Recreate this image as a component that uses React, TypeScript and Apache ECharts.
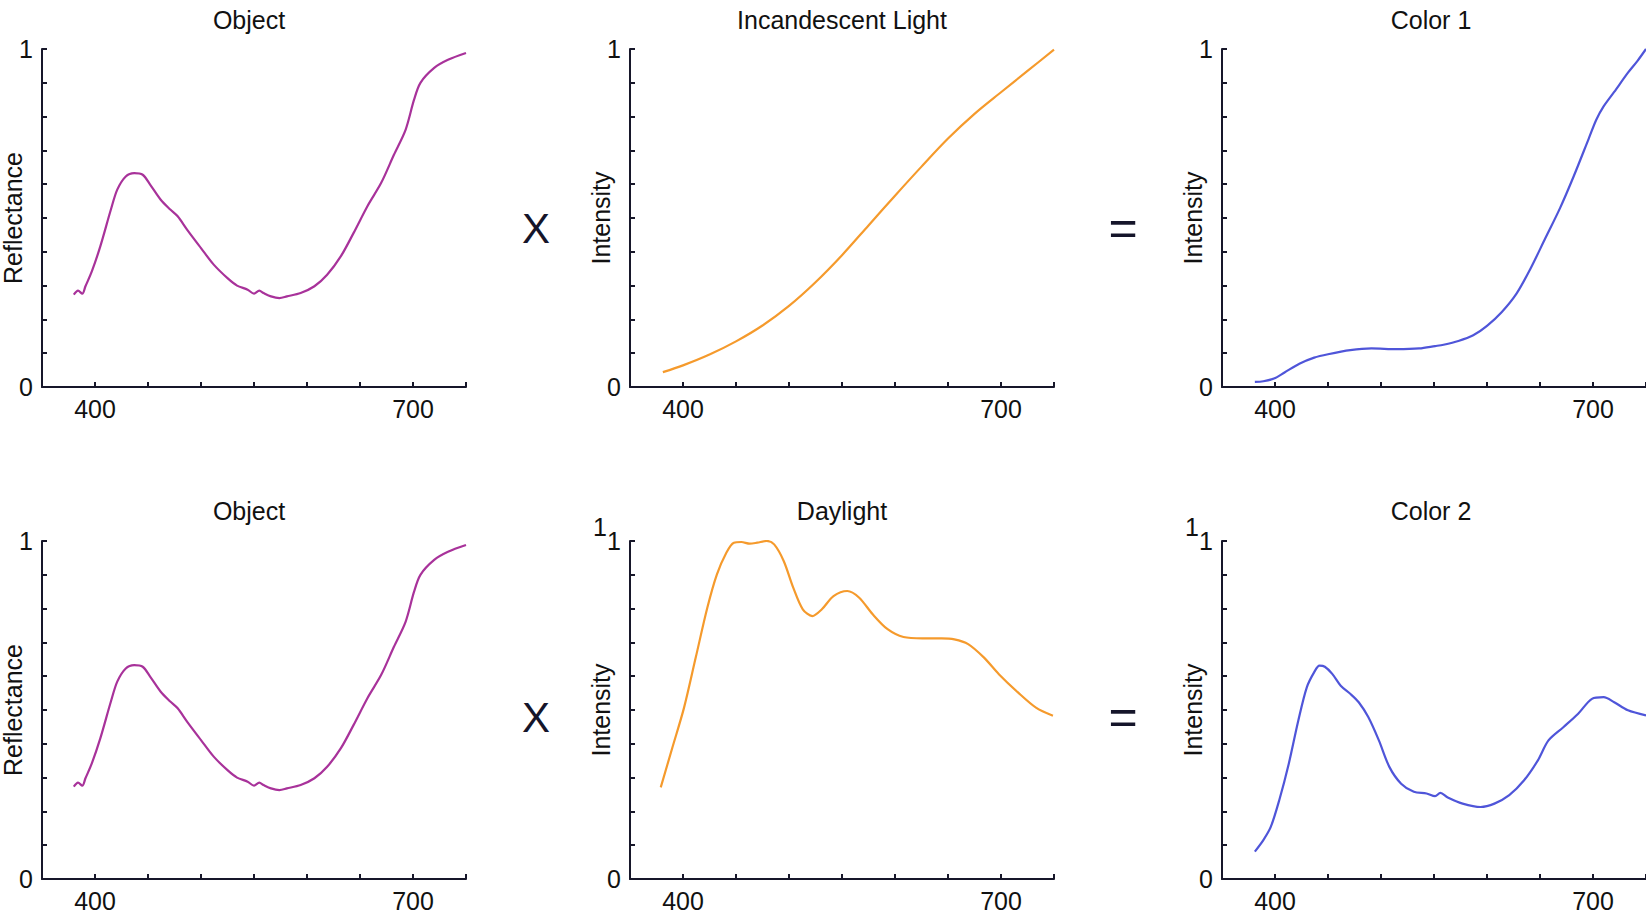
import React, { useEffect, useRef } from 'react';
import * as echarts from 'echarts';

// ---- data (wavelength in nm, normalised value) ----
const objectNm = [380, 384, 388, 391, 397, 405, 415, 421, 429, 437, 445, 452, 462, 471, 478, 487, 500, 512, 525, 534, 544, 550, 555, 559, 566, 574, 581, 594, 607, 619, 632, 644, 657, 670, 682, 693, 701, 707, 720, 733, 750];
const objectVal = [0.273, 0.285, 0.276, 0.298, 0.342, 0.416, 0.525, 0.584, 0.623, 0.633, 0.628, 0.599, 0.554, 0.525, 0.505, 0.465, 0.411, 0.362, 0.322, 0.300, 0.288, 0.276, 0.285, 0.278, 0.268, 0.263, 0.268, 0.278, 0.298, 0.332, 0.387, 0.456, 0.535, 0.604, 0.687, 0.761, 0.850, 0.900, 0.944, 0.968, 0.988];

const incandescentNm = [381, 400, 425, 450, 475, 500, 525, 550, 575, 600, 625, 650, 675, 700, 725, 750];
const incandescentVal = [0.044, 0.064, 0.096, 0.135, 0.182, 0.240, 0.310, 0.390, 0.478, 0.566, 0.652, 0.735, 0.808, 0.872, 0.935, 0.998];

const color1Nm = [381, 389, 399, 409, 423, 437, 450, 471, 491, 515, 536, 551, 559, 573, 587, 600, 614, 628, 641, 655, 669, 682, 696, 703, 710, 720, 733, 742, 750];
const color1Val = [0.015, 0.017, 0.025, 0.043, 0.069, 0.087, 0.097, 0.109, 0.114, 0.112, 0.114, 0.121, 0.125, 0.136, 0.153, 0.181, 0.222, 0.277, 0.350, 0.440, 0.530, 0.625, 0.735, 0.790, 0.830, 0.873, 0.930, 0.965, 1.0];

const daylightNm = [379, 390, 401, 412, 423, 432, 441, 448, 455, 463, 470, 479, 486, 495, 504, 513, 522, 531, 542, 555, 566, 579, 593, 608, 626, 644, 656, 669, 684, 698, 716, 733, 749];
const daylightVal = [0.271, 0.389, 0.507, 0.655, 0.803, 0.901, 0.966, 0.995, 0.997, 0.992, 0.995, 1.0, 0.990, 0.941, 0.862, 0.798, 0.778, 0.798, 0.837, 0.852, 0.833, 0.783, 0.739, 0.716, 0.712, 0.712, 0.709, 0.695, 0.655, 0.606, 0.552, 0.507, 0.483];

const color2Nm = [381, 389, 396, 404, 413, 422, 430, 437, 442, 447, 454, 462, 471, 479, 488, 498, 508, 519, 531, 543, 551, 556, 563, 577, 594, 607, 621, 635, 648, 658, 672, 686, 699, 710, 720, 733, 750];
const color2Val = [0.081, 0.115, 0.154, 0.233, 0.341, 0.469, 0.567, 0.612, 0.631, 0.628, 0.607, 0.572, 0.548, 0.523, 0.479, 0.410, 0.331, 0.282, 0.258, 0.253, 0.245, 0.255, 0.241, 0.223, 0.213, 0.223, 0.248, 0.292, 0.351, 0.410, 0.449, 0.489, 0.533, 0.538, 0.523, 0.499, 0.484];

const panelTitles = ['Object', 'Incandescent Light', 'Color 1', 'Object', 'Daylight', 'Color 2'];
const yAxisNames = ['Reflectance', 'Intensity', 'Intensity', 'Reflectance', 'Intensity', 'Intensity'];
const xTickLabels = [400, 700];
const yTickLabels = [0, 1];

const FONT = '"Liberation Sans", Arial, Helvetica, sans-serif';

const pairs = (xs: number[], ys: number[]) => xs.map((x, i) => [x, ys[i]]);

export default function App() {
  const ref = useRef<HTMLDivElement>(null);

  useEffect(() => {
    if (!ref.current) return;
    const chart = echarts.init(ref.current, undefined, { renderer: 'svg' });

    const lefts = [42, 630, 1222];
    const tops = [49, 541];
    const W = 424;
    const H = 338;
    const titleX = [249, 842, 1431];
    const titleY = [20, 511];

    const grids: any[] = [];
    const xAxes: any[] = [];
    const yAxes: any[] = [];
    const axisColor = '#17172a';

    for (let r = 0; r < 2; r++) {
      for (let c = 0; c < 3; c++) {
        const i = r * 3 + c;
        grids.push({ left: lefts[c], top: tops[r], width: W, height: H, containLabel: false, outerBoundsMode: 'none' });
        xAxes.push({
          type: 'value',
          gridIndex: i,
          min: 350,
          max: 750,
          interval: 50,
          axisLine: { show: true, onZero: false, lineStyle: { color: axisColor, width: 2 } },
          axisTick: { show: true, inside: true, length: 5, lineStyle: { color: axisColor, width: 2 } },
          axisLabel: {
            formatter: (v: number) => (xTickLabels.includes(Math.round(v)) ? String(Math.round(v)) : ''),
            fontSize: 25,
            color: '#111',
            margin: 9,
            fontFamily: FONT,
          },
          splitLine: { show: false },
        });
        yAxes.push({
          type: 'value',
          gridIndex: i,
          min: 0,
          max: 1,
          interval: 0.1,
          name: yAxisNames[i],
          nameLocation: 'middle',
          nameGap: 17,
          nameMoveOverlap: false,
          nameTextStyle: { fontSize: 25, color: '#111', fontFamily: FONT },
          axisLine: { show: true, onZero: false, lineStyle: { color: axisColor, width: 2 } },
          axisTick: { show: true, inside: true, length: 5, lineStyle: { color: axisColor, width: 2 } },
          axisLabel: {
            formatter: (v: number) => {
              const m = yTickLabels.find((t) => Math.abs(v - t) < 1e-6);
              return m !== undefined ? String(m) : '';
            },
            fontSize: 25,
            color: '#111',
            margin: 9,
            fontFamily: FONT,
          },
          splitLine: { show: false },
        });
      }
    }

    const seriesDefs = [
      { data: pairs(objectNm, objectVal), color: '#a8329a' },
      { data: pairs(incandescentNm, incandescentVal), color: '#f59a2c' },
      { data: pairs(color1Nm, color1Val), color: '#4f55d9' },
      { data: pairs(objectNm, objectVal), color: '#a8329a' },
      { data: pairs(daylightNm, daylightVal), color: '#f59a2c' },
      { data: pairs(color2Nm, color2Val), color: '#4f55d9' },
    ];

    const series = seriesDefs.map((s, i) => ({
      type: 'line',
      xAxisIndex: i,
      yAxisIndex: i,
      data: s.data,
      smooth: 0.3,
      showSymbol: false,
      symbol: 'none',
      lineStyle: { color: s.color, width: 2.2 },
      itemStyle: { color: s.color },
    }));

    const graphic: any[] = [];
    for (let r = 0; r < 2; r++) {
      for (let c = 0; c < 3; c++) {
        graphic.push({
          type: 'text',
          x: titleX[c],
          y: titleY[r],
          style: { text: panelTitles[r * 3 + c], fontSize: 25, fontFamily: FONT, fill: '#111', align: 'center', verticalAlign: 'middle' },
        });
      }
    }
    const opY = [228, 717];
    for (let r = 0; r < 2; r++) {
      graphic.push({
        type: 'text',
        x: 536,
        y: opY[r],
        style: { text: 'X', fontSize: 42, fontFamily: FONT, fill: '#15152a', align: 'center', verticalAlign: 'middle' },
      });
      graphic.push({
        type: 'text',
        x: 1123,
        y: opY[r],
        style: { text: '=', fontSize: 50, fontFamily: FONT, fill: '#15152a', align: 'center', verticalAlign: 'middle' },
      });
    }
    // duplicated "1" labels in the bottom-middle and bottom-right panels
    for (const c of [1, 2]) {
      graphic.push({
        type: 'text',
        x: lefts[c] - 30,
        y: tops[1] - 14,
        style: { text: '1', fontSize: 25, fontFamily: FONT, fill: '#111', align: 'center', verticalAlign: 'middle' },
      });
    }

    chart.setOption({
      animation: false,
      backgroundColor: '#ffffff',
      textStyle: { fontFamily: FONT },
      grid: grids,
      xAxis: xAxes,
      yAxis: yAxes,
      series,
      graphic,
    });

    return () => chart.dispose();
  }, []);

  return <div ref={ref} style={{ position: 'fixed', left: 0, top: 0, width: 1646, height: 916, background: '#fff' }} />;
}
